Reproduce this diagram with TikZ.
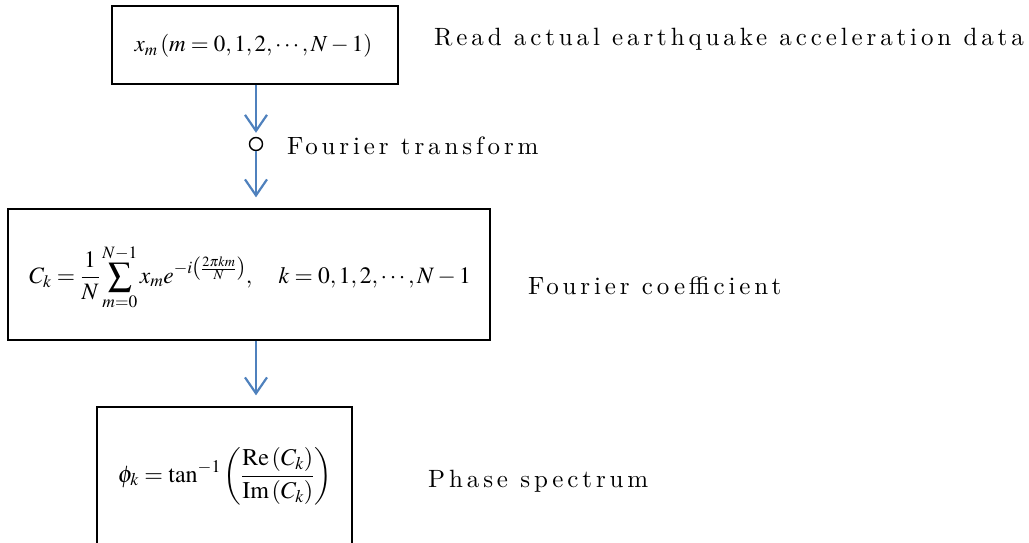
\documentclass[tikz,border=0pt]{standalone}
\usepackage[no-math]{fontspec}
\usepackage{mathptmx}
\usetikzlibrary{arrows.meta}
\definecolor{arrowblue}{RGB}{79,129,189}
\newfontfamily\labfont[LetterSpace=15.5]{lmroman10-regular.otf}
\begin{document}
\begin{tikzpicture}[x=1pt,y=-1pt,
  box/.style={draw=black,line width=1.3pt,inner sep=0pt},
  flow/.style={draw=arrowblue,line width=2.2pt,-{Straight Barb[length=16pt,width=22pt]}},
  lab/.style={anchor=base west,inner sep=0pt,font=\labfont\fontsize{25}{30}\selectfont},
  mth/.style={inner sep=0pt}]
\useasboundingbox (0,0) rectangle (1029,542);
\begin{scope}
\clip (0,0) rectangle (1029,542);
\node[box,minimum width=286pt,minimum height=78pt] (b1) at (255,45) {};
\node[box,minimum width=482pt,minimum height=131pt] (b2) at (249,274.5) {};
\node[box,minimum width=255pt,minimum height=138pt] (b3) at (224.5,476) {};
\end{scope}
\node[mth] (m1) at (253.5,46) {\fontsize{23}{27}\selectfont $x_m\left(m=0,1,2,\cdots,N-1\right)$};
\node[mth] (m2) at (250,277) {\fontsize{23.5}{28}\selectfont $\displaystyle C_k=\frac{1}{N}\sum_{m=0}^{N-1}x_m e^{-i\left(\frac{2\pi km}{N}\right)},\quad k=0,1,2,\cdots,N-1$};
\node[mth] (m3) at (225,476) {\fontsize{24}{28}\selectfont $\displaystyle \phi_k=\tan^{-1}\left(\frac{\mathrm{Re}\left(C_k\right)}{\mathrm{Im}\left(C_k\right)}\right)$};
\node[circle,draw,line width=1.4pt,minimum size=13pt,inner sep=0pt] (c) at (256,144) {};
\draw[flow,shorten >=4pt] (b1.south -| c) -- (c.north);
\draw[flow,shorten >=11pt] (c.south) -- (b2.north -| c);
\draw[flow,shorten >=11pt] (b2.south -| c) -- (b3.north -| c);
\node[lab] (l1) at (434,45) {Read actual earthquake acceleration data};
\node[lab] (l2) at (287,154) {Fourier transform};
\node[lab] (l3) at (528,294) {Fourier coefficient};
\node[lab] (l4) at (428,487) {Phase spectrum};
\end{tikzpicture}
\end{document}
